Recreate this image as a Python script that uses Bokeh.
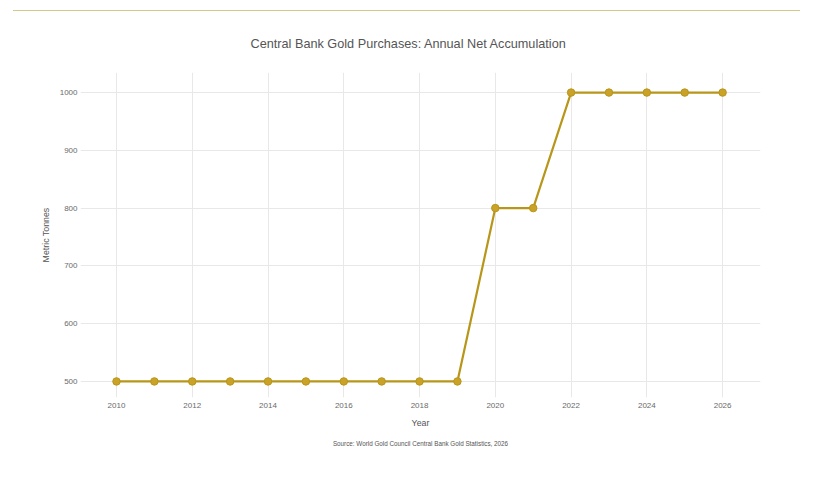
from bokeh.plotting import figure
from bokeh.models import Div, Title, Range1d, FixedTicker
from bokeh.layouts import column
from bokeh.embed import file_html
from bokeh.resources import INLINE

years = [2010, 2011, 2012, 2013, 2014, 2015, 2016, 2017, 2018, 2019,
         2020, 2021, 2022, 2023, 2024, 2025, 2026]
tonnes = [500, 500, 500, 500, 500, 500, 500, 500, 500, 500,
          800, 800, 1000, 1000, 1000, 1000, 1000]
x_ticks = [2010, 2012, 2014, 2016, 2018, 2020, 2022, 2024, 2026]
y_ticks = [500, 600, 700, 800, 900, 1000]

title_text = "Central Bank Gold Purchases: Annual Net Accumulation"
source_text = "Source: World Gold Council Central Bank Gold Statistics, 2026"

FONT = "Liberation Sans"
GOLD_LINE = "#b8961a"
GOLD_FILL = "#c9a227"

top_rule = Div(text="", width=787, height=1, margin=(10, 0, 0, 13),
               styles={"border-top": "1px solid #d3c78c"})

p = figure(width=829, height=442, output_backend="svg", toolbar_location=None,
           x_range=Range1d(2009.05, 2027.0), y_range=Range1d(472.2, 1034.7),
           min_border_left=80, min_border_right=69, min_border_top=61,
           min_border_bottom=10)

p.title.text = title_text
p.title.align = "left"
p.title.offset = 170
p.title.text_font = FONT
p.title.text_font_size = "12.7px"
p.title.text_font_style = "normal"
p.title.text_color = "#555555"
p.title.standoff = 44

p.outline_line_color = None
p.background_fill_color = "white"
p.border_fill_color = "white"

for ax in (p.xaxis, p.yaxis):
    ax.axis_line_color = None
    ax.major_tick_line_color = None
    ax.minor_tick_line_color = None
    ax.major_tick_out = 0
    ax.major_tick_in = 0
    ax.minor_tick_out = 0
    ax.minor_tick_in = 0
    ax.major_label_text_font = FONT
    ax.major_label_text_font_size = "8px"
    ax.major_label_text_color = "#6a6a6a"
    ax.axis_label_text_font = FONT
    ax.axis_label_text_font_size = "8.8px"
    ax.axis_label_text_font_style = "normal"
    ax.axis_label_text_color = "#555555"

p.xaxis.ticker = FixedTicker(ticks=x_ticks)
p.yaxis.ticker = FixedTicker(ticks=y_ticks)
p.xaxis.axis_label = "Year"
p.yaxis.axis_label = "Metric Tonnes"
p.xaxis.major_label_standoff = 5
p.yaxis.major_label_standoff = 3
p.xaxis.axis_label_standoff = 7
p.yaxis.axis_label_standoff = 6

p.xgrid.grid_line_color = "#e8e8e8"
p.ygrid.grid_line_color = "#e8e8e8"
p.xgrid.grid_line_width = 1
p.ygrid.grid_line_width = 1

p.line(years, tonnes, line_color=GOLD_LINE, line_width=2.2)
p.scatter(years, tonnes, size=7.5, fill_color=GOLD_FILL, line_color=GOLD_LINE,
          line_width=1)

src = Title(text=source_text, align="center", text_font=FONT,
            text_font_size="6.3px", text_font_style="normal",
            text_color="#555555", standoff=14)
p.add_layout(src, "below")

layout = column(top_rule, p, spacing=0)
open("out.html", "w").write(file_html(layout, INLINE))
